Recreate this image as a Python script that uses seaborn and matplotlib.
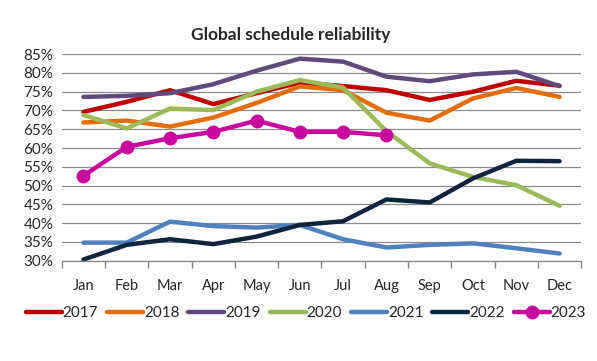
import numpy as np
import pandas as pd
import matplotlib
matplotlib.use("Agg")
import matplotlib.pyplot as plt
import seaborn as sns

# -----------------------------------------
# Data
# -----------------------------------------

months = ["Jan", "Feb", "Mar", "Apr", "May", "Jun",
          "Jul", "Aug", "Sep", "Oct", "Nov", "Dec"]

r2017 = [69.6, 72.3, 75.4, 71.7, 74.6, 77.4, 76.5, 75.4, 72.8, 75.0, 77.9, 76.6]
r2018 = [66.8, 67.3, 65.7, 68.1, 72.0, 76.4, 75.4, 69.4, 67.3, 73.2, 76.0, 73.6]
r2019 = [73.6, 73.9, 74.6, 77.0, 80.6, 83.8, 83.0, 79.0, 77.8, 79.6, 80.3, 76.5]
r2020 = [68.8, 65.2, 70.5, 70.1, 75.0, 78.1, 76.1, 64.5, 55.9, 52.3, 50.1, 44.6]
r2021 = [34.8, 34.8, 40.4, 39.2, 38.8, 39.5, 35.7, 33.5, 34.2, 34.6, 33.3, 31.9]
r2022 = [30.3, 34.2, 35.7, 34.4, 36.4, 39.5, 40.5, 46.3, 45.5, 51.9, 56.6, 56.5]
r2023 = [52.6, 60.3, 62.6, 64.3, 67.3, 64.3, 64.3, 63.4]

series = {
    "2017": r2017, "2018": r2018, "2019": r2019, "2020": r2020,
    "2021": r2021, "2022": r2022, "2023": r2023,
}

colors = {
    "2017": "#C00000", "2018": "#E46C0A", "2019": "#604A7B",
    "2020": "#9BBB59", "2021": "#4F81BD", "2022": "#10243E",
    "2023": "#C8089E",
}

# -----------------------------------------
# Plot
# -----------------------------------------

sns.set_theme(style="white")
plt.rcParams["font.family"] = ["Lato", "DejaVu Sans"]

fig = plt.figure(figsize=(5.97, 3.61), dpi=100)
ax = fig.add_axes([0.1035, 0.278, 0.870, 0.572])

for year, vals in series.items():
    df = pd.DataFrame({"x": np.arange(len(vals)), "y": vals})
    if year == "2023":
        sns.lineplot(data=df, x="x", y="y", ax=ax, color=colors[year],
                     linewidth=3.2, marker="o", markersize=10,
                     markeredgewidth=0, label=year, zorder=3)
    else:
        sns.lineplot(data=df, x="x", y="y", ax=ax, color=colors[year],
                     linewidth=3.2, label=year, zorder=2)

ax.set_xlim(-0.5, 11.5)
ax.set_ylim(30, 85)
ax.set_yticks(np.arange(30, 86, 5))
ax.set_yticklabels([f"{v}%" for v in range(30, 86, 5)], fontsize=11)
ax.set_xticks(np.arange(12))
ax.set_xticklabels(months, fontsize=10.5)
ax.set_xticks(np.arange(-0.5, 12, 1), minor=True)
ax.tick_params(axis="x", which="major", length=0, pad=13)
ax.tick_params(axis="x", which="minor", length=5, color="#888888",
               direction="out", bottom=True)
ax.tick_params(axis="y", length=0, pad=6)
ax.set_xlabel("")
ax.set_ylabel("")

ax.yaxis.grid(True, color="#8C8C8C", linewidth=0.9)
ax.set_axisbelow(True)
for s in ["top", "right", "left"]:
    ax.spines[s].set_visible(False)
ax.spines["bottom"].set_color("#888888")
ax.spines["bottom"].set_linewidth(0.9)

ax.set_title("Global schedule reliability", fontsize=12.5,
             fontweight="bold", pad=10, x=0.44)

ax.legend(loc="upper center", bbox_to_anchor=(0.47, -0.19), ncol=7,
          frameon=False, fontsize=11, handlelength=2.35, handletextpad=0.05,
          columnspacing=0.6, borderaxespad=0)

fig.savefig("out.png", dpi=100)
